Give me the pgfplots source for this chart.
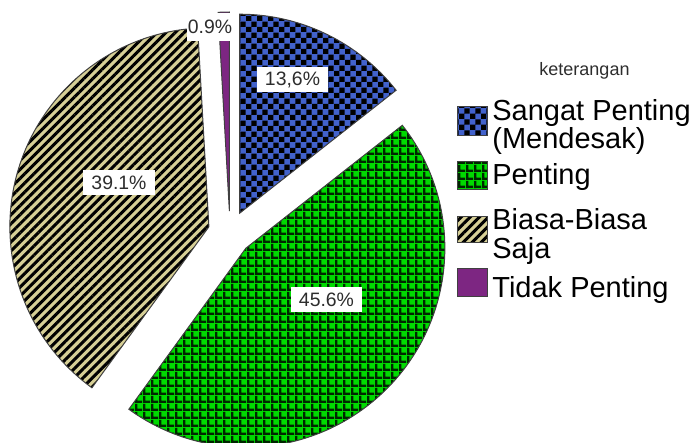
\documentclass[border=0pt]{standalone}
\usepackage{pgfplots}
\pgfplotsset{compat=1.18}
\usepackage{fontspec}
\setmainfont{Liberation Sans}
\usetikzlibrary{patterns,patterns.meta}

\definecolor{spblue}{RGB}{66,98,204}
\definecolor{spgreen}{RGB}{0,218,0}
\definecolor{sptan}{RGB}{214,207,150}
\definecolor{sppurple}{RGB}{125,38,130}
\definecolor{txt}{RGB}{45,45,45}

% checker tiles for the "Sangat Penting" slice
\pgfdeclarepatternformonly{spcheck}{\pgfpointorigin}{\pgfpoint{5.6pt}{5.6pt}}{\pgfpoint{5.6pt}{5.6pt}}{%
  \pgfpathrectangle{\pgfpointorigin}{\pgfpoint{2.8pt}{2.8pt}}%
  \pgfpathrectangle{\pgfpoint{2.8pt}{2.8pt}}{\pgfpoint{2.8pt}{2.8pt}}%
  \pgfusepath{fill}}
% grid for "Penting"
\pgfdeclarepatternformonly{spgrid}{\pgfpointorigin}{\pgfpoint{3.75pt}{3.75pt}}{\pgfpoint{3.75pt}{3.75pt}}{%
  \pgfpathrectangle{\pgfpointorigin}{\pgfpoint{3.75pt}{1.3pt}}%
  \pgfpathrectangle{\pgfpointorigin}{\pgfpoint{1.3pt}{3.75pt}}%
  \pgfusepath{fill}}

\tikzset{
  slice/.style={draw=black!75, line width=0.5pt},
  sblue/.style={slice, preaction={fill=spblue}, pattern=spcheck, pattern color=black},
  sgreen/.style={slice, preaction={fill=spgreen}, pattern=spgrid, pattern color=black!85!green},
  stan/.style={slice, preaction={fill=sptan},
    pattern={Lines[angle=45,distance=3.2pt,line width=1.5pt]}, pattern color=black},
  spurple/.style={slice, fill=sppurple},
  plabel/.style={fill=white, text=txt, font=\fontsize{9.7pt}{11pt}\selectfont,
    inner xsep=4pt, inner ysep=0pt, minimum height=12.5pt},
  ltext/.style={anchor=base west, inner sep=0pt, font=\fontsize{14.5pt}{16pt}\selectfont}
}

% one exploded slice: start angle, end angle, style
\newcommand\pieslice[3]{%
  \draw[#3] ([shift={({(#1+#2)/2}:11pt)}]axis cs:230,210) -- ++(#1:99.5pt)
    arc[start angle=#1, end angle=#2, radius=99.5pt] -- cycle;}

% shares in percent (clockwise from 12 o'clock)
\def\shA{14.4}\def\shB{45.6}\def\shC{39.1}\def\shD{0.9}

\begin{document}
\begin{tikzpicture}
\pgfmathsetmacro\aA{90}
\pgfmathsetmacro\aB{\aA-3.6*\shA}
\pgfmathsetmacro\aC{\aB-3.6*\shB}
\pgfmathsetmacro\aD{\aC-3.6*\shC}
\pgfmathsetmacro\aE{\aD-3.6*\shD}
\begin{axis}[
    name=ax,
    hide axis,
    x=0.5pt, y=0.5pt,
    xmin=0, xmax=697,
    ymin=0, ymax=443
]
\pieslice{\aA}{\aB}{sblue}
\pieslice{\aB}{\aC}{sgreen}
\pieslice{\aC}{\aD}{stan}
\pieslice{\aD}{\aE}{spurple}

\node[plabel] at (axis cs:292.5,363.5) {13,6\%};
\node[plabel] at (axis cs:326.5,143.5) {45.6\%};
\node[plabel] at (axis cs:119,260) {39.1\%};
\node[plabel, inner xsep=0.5pt, minimum height=14pt] at (axis cs:210,416) {0.9\%};

% legend
\node[anchor=base, text=txt, font=\fontsize{9pt}{10pt}\selectfont] at (axis cs:584.5,367) {keterangan};
\draw[sblue] (axis cs:457,307) rectangle (axis cs:487,336);
\draw[sgreen] (axis cs:457,253) rectangle (axis cs:487,281);
\draw[stan] (axis cs:457,200) rectangle (axis cs:487,226);
\draw[spurple] (axis cs:457,146) rectangle (axis cs:487,174);
\node[ltext] at (axis cs:492,322) {Sangat Penting};
\node[ltext] at (axis cs:492,294) {(Mendesak)};
\node[ltext] at (axis cs:492,258) {Penting};
\node[ltext] at (axis cs:492,213) {Biasa-Biasa};
\node[ltext] at (axis cs:492,184) {Saja};
\node[ltext] at (axis cs:492,145) {Tidak Penting};
\end{axis}
\pgfresetboundingbox
\path (ax.south west) rectangle (ax.north east);
\end{tikzpicture}
\end{document}
